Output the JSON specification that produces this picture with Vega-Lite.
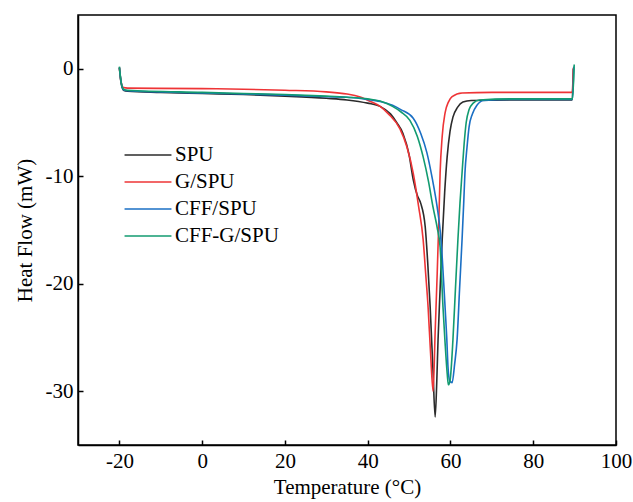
{
  "$schema": "https://vega.github.io/schema/vega-lite/v6.json",
  "width": 538,
  "height": 430,
  "autosize": {"type": "none"},
  "padding": {"left": 78, "top": 15, "right": 17, "bottom": 57},
  "background": "white",
  "config": {
    "view": {"stroke": "black", "strokeWidth": 1.5},
    "font": "Liberation Serif"
  },
  "datasets": {
    "SPU": [[-20,0.1],[-19.6,-1.3],[-19,-2.0],[-18,-2.1],[-10,-2.2],[0,-2.3],[10,-2.4],[20,-2.55],[30,-2.75],[35,-2.9],[40,-3.2],[43,-3.5],[45.5,-4.2],[47,-5.0],[48.5,-6.0],[50,-8.0],[51,-10.3],[52,-11.8],[52.8,-12.5],[53.9,-14.7],[54.5,-18.0],[55.1,-22.2],[55.8,-28.3],[56.3,-32.4],[56.7,-29.0],[57,-25.2],[57.5,-20.5],[58,-15.9],[58.6,-11.5],[59.2,-8.2],[59.9,-5.8],[60.6,-4.5],[61.7,-3.6],[63.0,-3.1],[65,-2.95],[75,-2.9],[89.4,-2.9],[89.7,0.0]],
    "G": [[-20,0.1],[-19.6,-1.2],[-19,-1.75],[-18,-1.8],[0,-1.85],[10,-1.9],[20,-2.0],[30,-2.15],[35,-2.35],[38,-2.6],[41,-3.1],[43,-3.5],[45,-4.2],[47.8,-5.6],[49.5,-7.3],[51,-9.7],[52.3,-12.8],[53.4,-15.9],[54.0,-19.0],[54.6,-22.2],[55.2,-26.5],[55.8,-30.0],[56.3,-24.5],[56.8,-19.0],[57.2,-14.0],[57.5,-9.7],[58.0,-6.3],[58.7,-4.1],[59.5,-3.1],[60.4,-2.6],[62.8,-2.25],[70,-2.2],[89.4,-2.2],[89.7,0.1]],
    "CFF": [[-20,0.1],[-19.6,-1.2],[-19,-1.95],[-18,-2.05],[0,-2.25],[10,-2.35],[20,-2.45],[30,-2.6],[35,-2.65],[40,-2.85],[43,-3.05],[46,-3.4],[48,-3.8],[51,-4.6],[52.8,-6.0],[54.3,-7.8],[55.6,-10.2],[56.8,-12.9],[57.5,-15.0],[58.0,-17.5],[58.7,-22.2],[59.1,-25.0],[59.4,-27.7],[59.8,-29.0],[60.4,-29.2],[61.0,-27.5],[61.6,-25.2],[62.2,-20.5],[62.8,-15.9],[63.2,-12.5],[63.5,-9.7],[64.0,-7.3],[64.5,-5.4],[65.3,-4.2],[66.4,-3.4],[68,-2.95],[75,-2.85],[89.5,-2.85],[89.8,0.2]],
    "CFFG": [[-20,0.2],[-19.6,-1.2],[-19,-1.9],[-18,-2.0],[0,-2.2],[10,-2.3],[20,-2.4],[30,-2.55],[35,-2.65],[40,-2.8],[43,-3.0],[46,-3.5],[48,-4.0],[50.2,-4.8],[52,-6.3],[53.4,-8.2],[54.7,-10.5],[55.8,-12.9],[56.8,-14.8],[57.5,-16.6],[58.2,-22.2],[58.7,-25.5],[59.2,-28.3],[59.5,-29.4],[59.9,-29.0],[60.6,-25.2],[61.2,-20.5],[61.8,-15.9],[62.3,-12.5],[62.8,-9.7],[63.3,-7.0],[63.8,-5.0],[64.5,-3.8],[65.5,-3.2],[67,-2.9],[75,-2.8],[89.5,-2.8],[89.9,0.4]]
  },
  "layer": [
    {"data": {"name": "SPU"}, "transform": [{"calculate": "'SPU'", "as": "s"}, {"calculate": "datum[0]", "as": "t"}, {"calculate": "datum[1]", "as": "h"}], "mark": {"type": "line", "strokeWidth": 1.6, "interpolate": "monotone"}, "encoding": {"x": {"field": "t", "type": "quantitative"}, "y": {"field": "h", "type": "quantitative"}, "color": {"field": "s", "type": "nominal"}}},
    {"data": {"name": "G"}, "transform": [{"calculate": "'G/SPU'", "as": "s"}, {"calculate": "datum[0]", "as": "t"}, {"calculate": "datum[1]", "as": "h"}], "mark": {"type": "line", "strokeWidth": 1.6, "interpolate": "monotone"}, "encoding": {"x": {"field": "t", "type": "quantitative"}, "y": {"field": "h", "type": "quantitative"}, "color": {"field": "s", "type": "nominal"}}},
    {"data": {"name": "CFF"}, "transform": [{"calculate": "'CFF/SPU'", "as": "s"}, {"calculate": "datum[0]", "as": "t"}, {"calculate": "datum[1]", "as": "h"}], "mark": {"type": "line", "strokeWidth": 1.6, "interpolate": "monotone"}, "encoding": {"x": {"field": "t", "type": "quantitative"}, "y": {"field": "h", "type": "quantitative"}, "color": {"field": "s", "type": "nominal"}}},
    {"data": {"name": "CFFG"}, "transform": [{"calculate": "'CFF-G/SPU'", "as": "s"}, {"calculate": "datum[0]", "as": "t"}, {"calculate": "datum[1]", "as": "h"}], "mark": {"type": "line", "strokeWidth": 1.6, "interpolate": "monotone"}, "encoding": {"x": {"field": "t", "type": "quantitative", "scale": {"domain": [-30, 100], "nice": false, "zero": false}, "axis": {"title": "Temperature (°C)", "values": [-20, 0, 20, 40, 60, 80, 100], "labelExpr": "datum.value + ''", "labelFlush": false, "grid": false, "domainColor": "black", "domainWidth": 1.5, "tickColor": "black", "tickWidth": 1.5, "tickSize": -5, "labelFont": "Liberation Serif", "labelFontSize": 21, "labelColor": "black", "labelPadding": 10, "titleFont": "Liberation Serif", "titleFontSize": 21, "titleFontWeight": "normal", "titleColor": "black", "titlePadding": 5}},
      "y": {"field": "h", "type": "quantitative", "scale": {"domain": [-35, 5], "nice": false, "zero": false}, "axis": {"title": "Heat Flow (mW)", "values": [-30, -20, -10, 0], "labelExpr": "datum.value + ''", "labelFlush": false, "grid": false, "domainColor": "black", "domainWidth": 1.5, "tickColor": "black", "tickWidth": 1.5, "tickSize": -5, "labelFont": "Liberation Serif", "labelFontSize": 21, "labelColor": "black", "labelPadding": 10, "titleFont": "Liberation Serif", "titleFontSize": 21, "titleFontWeight": "normal", "titleColor": "black", "titlePadding": 10}},
      "color": {"field": "s", "type": "nominal", "scale": {"domain": ["SPU", "G/SPU", "CFF/SPU", "CFF-G/SPU"], "range": ["#2b2b2b", "#ee3436", "#1a6fc4", "#129b70"]}, "legend": {"title": null, "orient": "none", "legendX": 57, "legendY": 127, "symbolType": "M-2,0H2", "symbolSize": 550, "symbolStrokeWidth": 1.6, "labelFont": "Liberation Serif", "labelFontSize": 21, "labelColor": "black", "rowPadding": 4, "labelOffset": 14}}}}
  ]
}
